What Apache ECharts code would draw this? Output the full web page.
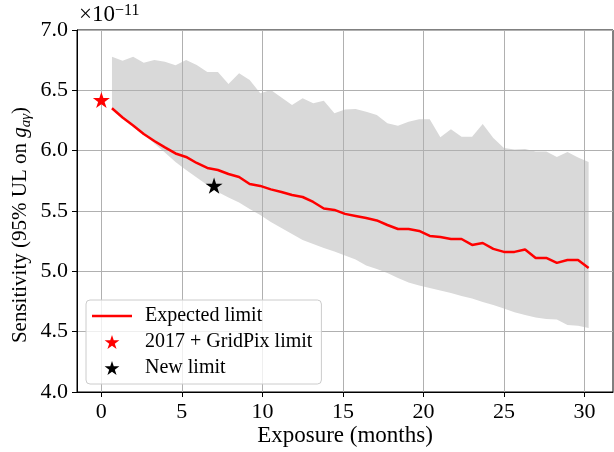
<!DOCTYPE html>
<html>
<head>
<meta charset="utf-8">
<script src="https://cdn.jsdelivr.net/npm/echarts@6/dist/echarts.min.js"></script>
<style>
html,body{margin:0;padding:0;background:#fff;}
#chart{width:614px;height:452px;}
</style>
</head>
<body>
<div id="chart"></div>
<script>
// Exposure (months), sampled every 20 days
const months = [0.658,1.316,1.974,2.632,3.289,3.947,4.605,5.263,5.921,6.579,7.237,7.895,8.553,9.211,9.868,10.526,11.184,11.842,12.5,13.158,13.816,14.474,15.132,15.789,16.447,17.105,17.763,18.421,19.079,19.737,20.395,21.053,21.711,22.368,23.026,23.684,24.342,25.0,25.658,26.316,26.974,27.632,28.289,28.947,29.605,30.263];
// Expected limit (×1e-11)
const expected = [6.351,6.275,6.209,6.138,6.080,6.027,5.977,5.948,5.898,5.857,5.840,5.807,5.782,5.724,5.708,5.679,5.658,5.633,5.616,5.575,5.521,5.509,5.476,5.459,5.442,5.422,5.384,5.351,5.351,5.335,5.293,5.285,5.268,5.268,5.219,5.235,5.186,5.161,5.161,5.181,5.111,5.111,5.070,5.094,5.094,5.028];
// Band upper / lower edges
const bandUpper = [6.779,6.746,6.779,6.729,6.751,6.737,6.708,6.751,6.710,6.652,6.652,6.553,6.641,6.586,6.476,6.503,6.441,6.379,6.434,6.393,6.414,6.310,6.341,6.345,6.323,6.296,6.227,6.207,6.240,6.260,6.260,6.111,6.177,6.116,6.116,6.221,6.105,6.022,6.010,6.014,5.993,5.993,5.948,5.989,5.944,5.906];
const bandLower = [6.351,6.275,6.209,6.138,6.060,5.985,5.906,5.840,5.778,5.716,5.658,5.612,5.571,5.517,5.467,5.409,5.360,5.310,5.260,5.227,5.194,5.165,5.132,5.099,5.049,5.020,4.987,4.945,4.908,4.883,4.862,4.842,4.821,4.796,4.775,4.746,4.722,4.693,4.660,4.639,4.618,4.606,4.601,4.556,4.548,4.531];
// Star markers
const prevLimit = [[0, 6.42]];
const newLimit = [[7.0, 5.71]];
// Tick values
const xTicks = [0, 5, 10, 15, 20, 25, 30];

const FONT = 'Liberation Serif';
const starPath = 'path://M0,-100L-22.45,-30.9L-95.1,-30.9L-36.3,11.8L-58.8,80.9L0,38.2L58.8,80.9L36.3,11.8L95.1,-30.9L22.45,-30.9Z';
const linePath = 'path://M0,0H40V2.5H0Z';

const chart = echarts.init(document.getElementById('chart'), null, {renderer: 'canvas'});

const bandData = months.map((m, i) => [m, bandUpper[i], bandLower[i]]);
const lineData = months.map((m, i) => [m, expected[i]]);

chart.setOption({
  animation: false,
  backgroundColor: '#fff',
  grid: {left: 77, right: 1, top: 30, bottom: 60, containLabel: false, outerBoundsMode: 'none',
         show: true, borderColor: '#000', borderWidth: 1, backgroundColor: 'transparent'},
  graphic: [{
    type: 'text', left: 79, top: 3, z: 10,
    style: {
      text: '×10{sup|−11}',
      fontFamily: FONT, fontSize: 23, fill: '#000',
      rich: {sup: {fontFamily: FONT, fontSize: 16, verticalAlign: 'top', fill: '#000'}}
    }
  }],
  xAxis: {
    type: 'value', min: -1.513, max: 31.776, z: 3,
    axisLine: {show: true, onZero: false, lineStyle: {color: '#000', width: 1}},
    axisTick: {show: true, length: 5, lineStyle: {color: '#000'}, customValues: xTicks},
    axisLabel: {fontFamily: FONT, fontSize: 22, color: '#000', margin: 9, customValues: xTicks},
    splitLine: {show: true, lineStyle: {color: '#b0b0b0', width: 1}},
    name: 'Exposure (months)', nameLocation: 'middle', nameGap: 32, nameMoveOverlap: false,
    nameTextStyle: {fontFamily: FONT, fontSize: 23, color: '#000'}
  },
  yAxis: {
    type: 'value', min: 4, max: 7, interval: 0.5, z: 3,
    axisLine: {show: true, onZero: false, lineStyle: {color: '#000', width: 1}},
    axisTick: {show: true, length: 5, lineStyle: {color: '#000'}},
    axisLabel: {fontFamily: FONT, fontSize: 22, color: '#000', margin: 9, formatter: v => v.toFixed(1)},
    splitLine: {show: true, lineStyle: {color: '#b0b0b0', width: 1}},
    name: 'Sensitivity (95% UL on {g|g}{s|aγ})', nameLocation: 'middle', nameGap: 43, nameMoveOverlap: false,
    nameTextStyle: {
      fontFamily: FONT, fontSize: 21, color: '#000', lineHeight: 28, padding: [0, 28, 0, 0],
      rich: {
        g: {fontFamily: FONT, fontSize: 21, fontStyle: 'italic', lineHeight: 28, color: '#000'},
        s: {fontFamily: FONT, fontSize: 15, fontStyle: 'italic', lineHeight: 28, verticalAlign: 'bottom', color: '#000'}
      }
    }
  },
  legend: {
    orient: 'vertical', left: 86, top: 300, z: 10,
    itemWidth: 40, itemHeight: 14, itemGap: 6,
    padding: [6, 9, 6, 6],
    backgroundColor: 'rgba(255,255,255,0.8)', borderColor: '#cccccc', borderWidth: 1, borderRadius: 4,
    textStyle: {fontFamily: FONT, fontSize: 20, color: '#000', padding: [0, 0, 0, 8]},
    data: [
      {name: 'Expected limit', icon: linePath, itemStyle: {color: '#ff0000', opacity: 1}},
      {name: '2017 + GridPix limit'},
      {name: 'New limit'}
    ]
  },
  series: [
    {
      type: 'custom', name: 'band', z: 1, silent: true,
      data: [bandData[0]],
      encode: {x: 0, y: 1},
      renderItem: function (params, api) {
        const pts = [];
        for (let i = 0; i < bandData.length; i++) pts.push(api.coord([bandData[i][0], bandData[i][1]]));
        for (let i = bandData.length - 1; i >= 0; i--) pts.push(api.coord([bandData[i][0], bandData[i][2]]));
        return {type: 'polygon', shape: {points: pts}, style: {fill: '#d9d9d9', stroke: null}};
      }
    },
    {
      type: 'line', name: 'Expected limit', z: 5, data: lineData,
      symbol: 'none', showSymbol: false,
      lineStyle: {color: '#ff0000', width: 2.5},
      itemStyle: {color: '#ff0000'}
    },
    {
      type: 'scatter', name: '2017 + GridPix limit', z: 6, data: prevLimit,
      symbol: starPath, symbolSize: 17, symbolKeepAspect: true,
      itemStyle: {color: '#ff0000', opacity: 1}
    },
    {
      type: 'scatter', name: 'New limit', z: 6, data: newLimit,
      symbol: starPath, symbolSize: 17, symbolKeepAspect: true,
      itemStyle: {color: '#000000', opacity: 1}
    }
  ]
});
</script>
</body>
</html>
